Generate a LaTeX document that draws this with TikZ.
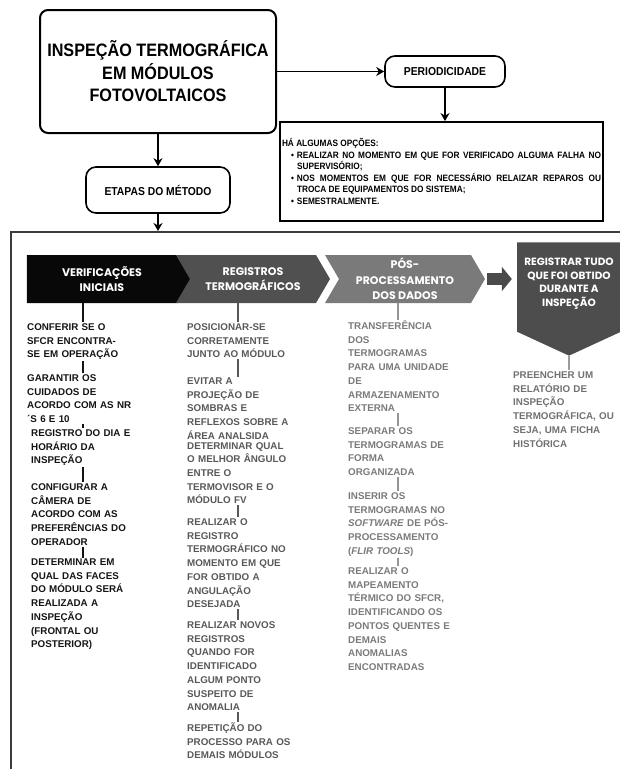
\documentclass[tikz,border=0pt]{standalone}
\usepackage{fontspec}
\setmainfont{Liberation Sans}
\newfontfamily\topfont[FakeStretch=0.9]{Liberation Sans}
\newfontfamily\chevfont{Poppins}
\usepackage{xcolor}
\usepackage{tikz}
\usetikzlibrary{shapes.symbols, arrows.meta}
\definecolor{mydark}{RGB}{20,20,20}
\definecolor{chevone}{RGB}{8,8,8}
\definecolor{chevtwo}{RGB}{80,80,80}
\definecolor{chevthree}{RGB}{122,122,122}
\definecolor{pentgray}{RGB}{77,77,77}
\definecolor{arrowgray}{RGB}{74,74,74}
\definecolor{coltwo}{RGB}{88,88,88}
\definecolor{colthree}{RGB}{122,122,122}
\definecolor{colfour}{RGB}{112,112,112}
\definecolor{framegray}{RGB}{60,60,60}
\tikzset{
  titleblock/.style={rectangle,draw=black,line width=2pt,rounded corners=8pt,minimum width=236pt,
    minimum height=123pt,align=center,font=\topfont\bfseries\fontsize{18}{22.5}\selectfont},
  roundblock/.style={rectangle,draw=black,line width=1.6pt,rounded corners=10pt,align=center,
    font=\topfont\bfseries\fontsize{11.5}{14}\selectfont},
  optblock/.style={rectangle,draw=black,line width=1.8pt,minimum height=99pt,text width=319pt,
    inner xsep=2pt,align=justify,font=\topfont\bfseries\fontsize{9.2}{11.5}\selectfont},
  chev/.style={signal,signal to=east,signal pointer angle=119.5,minimum width=164pt,
    minimum height=48pt,inner sep=0pt,text=white,align=center,
    font=\chevfont\bfseries\fontsize{11}{15.5}\selectfont},
  pentblock/.style={signal,signal to=south,signal pointer angle=130.5,minimum width=104pt,
    minimum height=110pt,inner sep=0pt,fill=pentgray,text=white,align=center,
    font=\chevfont\bfseries\fontsize{10.5}{13.5}\selectfont},
  item/.style={anchor=base west,text width=118pt,inner xsep=0pt,inner ysep=1pt,align=left,
    font=\bfseries\fontsize{9.8}{13.7}\selectfont},
  arrow/.style={-{Stealth[length=8pt,width=9pt]},line width=1.8pt,color=black},
  blockarrow/.style={-{Triangle[length=10pt,width=24pt]},line width=12pt,color=arrowgray},
  frame/.style={line width=1.5pt,color=framegray},
  lineone/.style={line width=1.5pt,color=mydark},
  linetwo/.style={line width=1.3pt,color=coltwo},
  linethree/.style={line width=1.2pt,color=colthree!80!white},
  linefour/.style={line width=1.5pt,color=colfour!70!white}
}
\begin{document}
\begin{tikzpicture}[x=1pt,y=-1pt]
  \useasboundingbox (0,0) rectangle (620,769);

  % ── Top flow ──────────────────────────────────────────────────────────────
  \node[titleblock] (main) at (158,71.5) {INSPEÇÃO TERMOGRÁFICA\\EM MÓDULOS\\FOTOVOLTAICOS};
  \node[roundblock,minimum width=120pt,minimum height=31pt] (period) at (445,71.5) {PERIODICIDADE};
  \node[roundblock,minimum width=144pt,minimum height=46pt] (etapas) at (158,190) {ETAPAS DO MÉTODO};
  \node[optblock] (opcoes) at (441.5,171.5) {HÁ ALGUMAS OPÇÕES:\par
    \hangindent=15pt\hspace*{9pt}\makebox[6pt][l]{\textbullet}REALIZAR NO MOMENTO EM QUE FOR VERIFICADO ALGUMA FALHA NO\linebreak SUPERVISÓRIO;\par
    \hangindent=15pt\hspace*{9pt}\makebox[6pt][l]{\textbullet}NOS MOMENTOS EM QUE FOR NECESSÁRIO RELAIZAR REPAROS OU\linebreak TROCA DE EQUIPAMENTOS DO SISTEMA;\par
    \hangindent=15pt\hspace*{9pt}\makebox[6pt][l]{\textbullet}SEMESTRALMENTE.};
  \coordinate (quadro) at (158,231);

  \draw[arrow] (main.east) -- (period.west);
  \draw[arrow] (period.south) -- (period.south |- opcoes.north);
  \draw[arrow] (main.south) -- (etapas.north);
  \draw[arrow] (etapas.south) -- (quadro);

  % ── Frame round the steps ─────────────────────────────────────────────────
  \draw[frame] (11,775) -- (11,232) -- (625,232);

  % ── Chevrons ──────────────────────────────────────────────────────────────
  \node[chev,fill=chevone] (verif) at (102,279) {VERIFICAÇÕES\\INICIAIS};
  \node[chev,fill=chevtwo,signal from=west,minimum width=154pt] (regis) at (253,279) {REGISTROS\\TERMOGRÁFICOS};
  \node[chev,fill=chevthree,signal from=west,minimum width=160pt] (pos) at (405,279) {PÓS-\\PROCESSAMENTO\\DOS DADOS};
  % extra short empty line lifts the text into the upper part of the shape
  \node[pentblock] (registrar) at (569,287) {REGISTRAR TUDO\\QUE FOI OBTIDO\\DURANTE A\\INSPEÇÃO\\[-4pt]\mbox{}};
  \draw[blockarrow,shorten <=2pt,shorten >=5pt] (pos.east) -- (pos.east -| registrar.west);

  % ── Column 1: initial checks ──────────────────────────────────────────────
  \coordinate (x1) at (83,0);
  \node[item,text=mydark] (v1) at (27,330.5) {CONFERIR SE O\\SFCR ENCONTRA-\\SE EM OPERAÇÃO};
  \node[item,text=mydark] (v2) at (27,381.5) {GARANTIR OS\\CUIDADOS DE\\ACORDO COM AS NR\\´S 6 E 10};
  \node[item,text=mydark] (v3) at (31,436.5) {REGISTRO DO DIA E\\HORÁRIO DA\\INSPEÇÃO};
  \node[item,text=mydark] (v4) at (31,490.5) {CONFIGURAR A\\CÂMERA DE\\ACORDO COM AS\\PREFERÊNCIAS DO\\OPERADOR};
  \node[item,text=mydark] (v5) at (31,565.5) {DETERMINAR EM\\QUAL DAS FACES\\DO MÓDULO SERÁ\\REALIZADA A\\INSPEÇÃO\\(FRONTAL OU\\POSTERIOR)};
  \draw[lineone] (verif.south -| x1) -- (v1.north -| x1);
  \draw[lineone] (v1.south -| x1) -- (v2.north -| x1);
  \draw[lineone] (v2.south -| x1) -- (v3.north -| x1);
  \draw[lineone] (v3.south -| x1) -- (v4.north -| x1);
  \draw[lineone] (v4.south -| x1) -- (v5.north -| x1);

  % ── Column 2: thermographic records ───────────────────────────────────────
  \coordinate (x2) at (238,0);
  \node[item,text=coltwo] (w1) at (187,330.5) {POSICIONAR-SE\\CORRETAMENTE\\JUNTO AO MÓDULO};
  \node[item,text=coltwo] (w2) at (187,384.5) {EVITAR A\\PROJEÇÃO DE\\SOMBRAS E\\REFLEXOS SOBRE A\\ÁREA ANALSIDA};
  \node[item,text=coltwo] (w3) at (187,449) {DETERMINAR QUAL\\O MELHOR ÂNGULO\\ENTRE O\\TERMOVISOR E O\\MÓDULO FV};
  \node[item,text=coltwo] (w4) at (187,525.5) {REALIZAR O\\REGISTRO\\TERMOGRÁFICO NO\\MOMENTO EM QUE\\FOR OBTIDO A\\ANGULAÇÃO\\DESEJADA};
  \node[item,text=coltwo] (w5) at (187,628.5) {REALIZAR NOVOS\\REGISTROS\\QUANDO FOR\\IDENTIFICADO\\ALGUM PONTO\\SUSPEITO DE\\ANOMALIA};
  \node[item,text=coltwo] (w6) at (187,731.5) {REPETIÇÃO DO\\PROCESSO PARA OS\\DEMAIS MÓDULOS};
  \draw[linetwo] (regis.south -| x2) -- (w1.north -| x2);
  \draw[linetwo] (w1.south -| x2) -- (w2.north -| x2);
  \draw[linetwo] (w3.south -| x2) -- (w4.north -| x2);
  \draw[linetwo] (w4.south -| x2) -- (w5.north -| x2);
  \draw[linetwo] (w5.south -| x2) -- (w6.north -| x2);

  % ── Column 3: post-processing ─────────────────────────────────────────────
  \coordinate (x3) at (398,0);
  \node[item,text=colthree] (t1) at (348,329.5) {TRANSFERÊNCIA\\DOS\\TERMOGRAMAS\\PARA UMA UNIDADE\\DE\\ARMAZENAMENTO\\EXTERNA};
  \node[item,text=colthree] (t2) at (348,434.5) {SEPARAR OS\\TERMOGRAMAS DE\\FORMA\\ORGANIZADA};
  \node[item,text=colthree] (t3) at (348,499.5) {INSERIR OS\\TERMOGRAMAS NO\\\textit{SOFTWARE} DE PÓS-\\PROCESSAMENTO\\(\textit{FLIR TOOLS})};
  \node[item,text=colthree] (t4) at (348,574.5) {REALIZAR O\\MAPEAMENTO\\TÉRMICO DO SFCR,\\IDENTIFICANDO OS\\PONTOS QUENTES E\\DEMAIS\\ANOMALIAS\\ENCONTRADAS};
  \draw[linethree] (pos.south -| x3) -- (t1.north -| x3);
  \draw[linethree] (t1.south -| x3) -- (t2.north -| x3);
  \draw[linethree] (t2.south -| x3) -- (t3.north -| x3);
  \draw[linethree] (t3.south -| x3) -- (t4.north -| x3);

  % ── Column 4: report ──────────────────────────────────────────────────────
  \node[item,text=colfour] (r1) at (513,378.5) {PREENCHER UM\\RELATÓRIO DE\\INSPEÇÃO\\TERMOGRÁFICA, OU\\SEJA, UMA FICHA\\HISTÓRICA};
  \draw[linefour] (registrar.south) -- (registrar.south |- r1.north);
\end{tikzpicture}
\end{document}
